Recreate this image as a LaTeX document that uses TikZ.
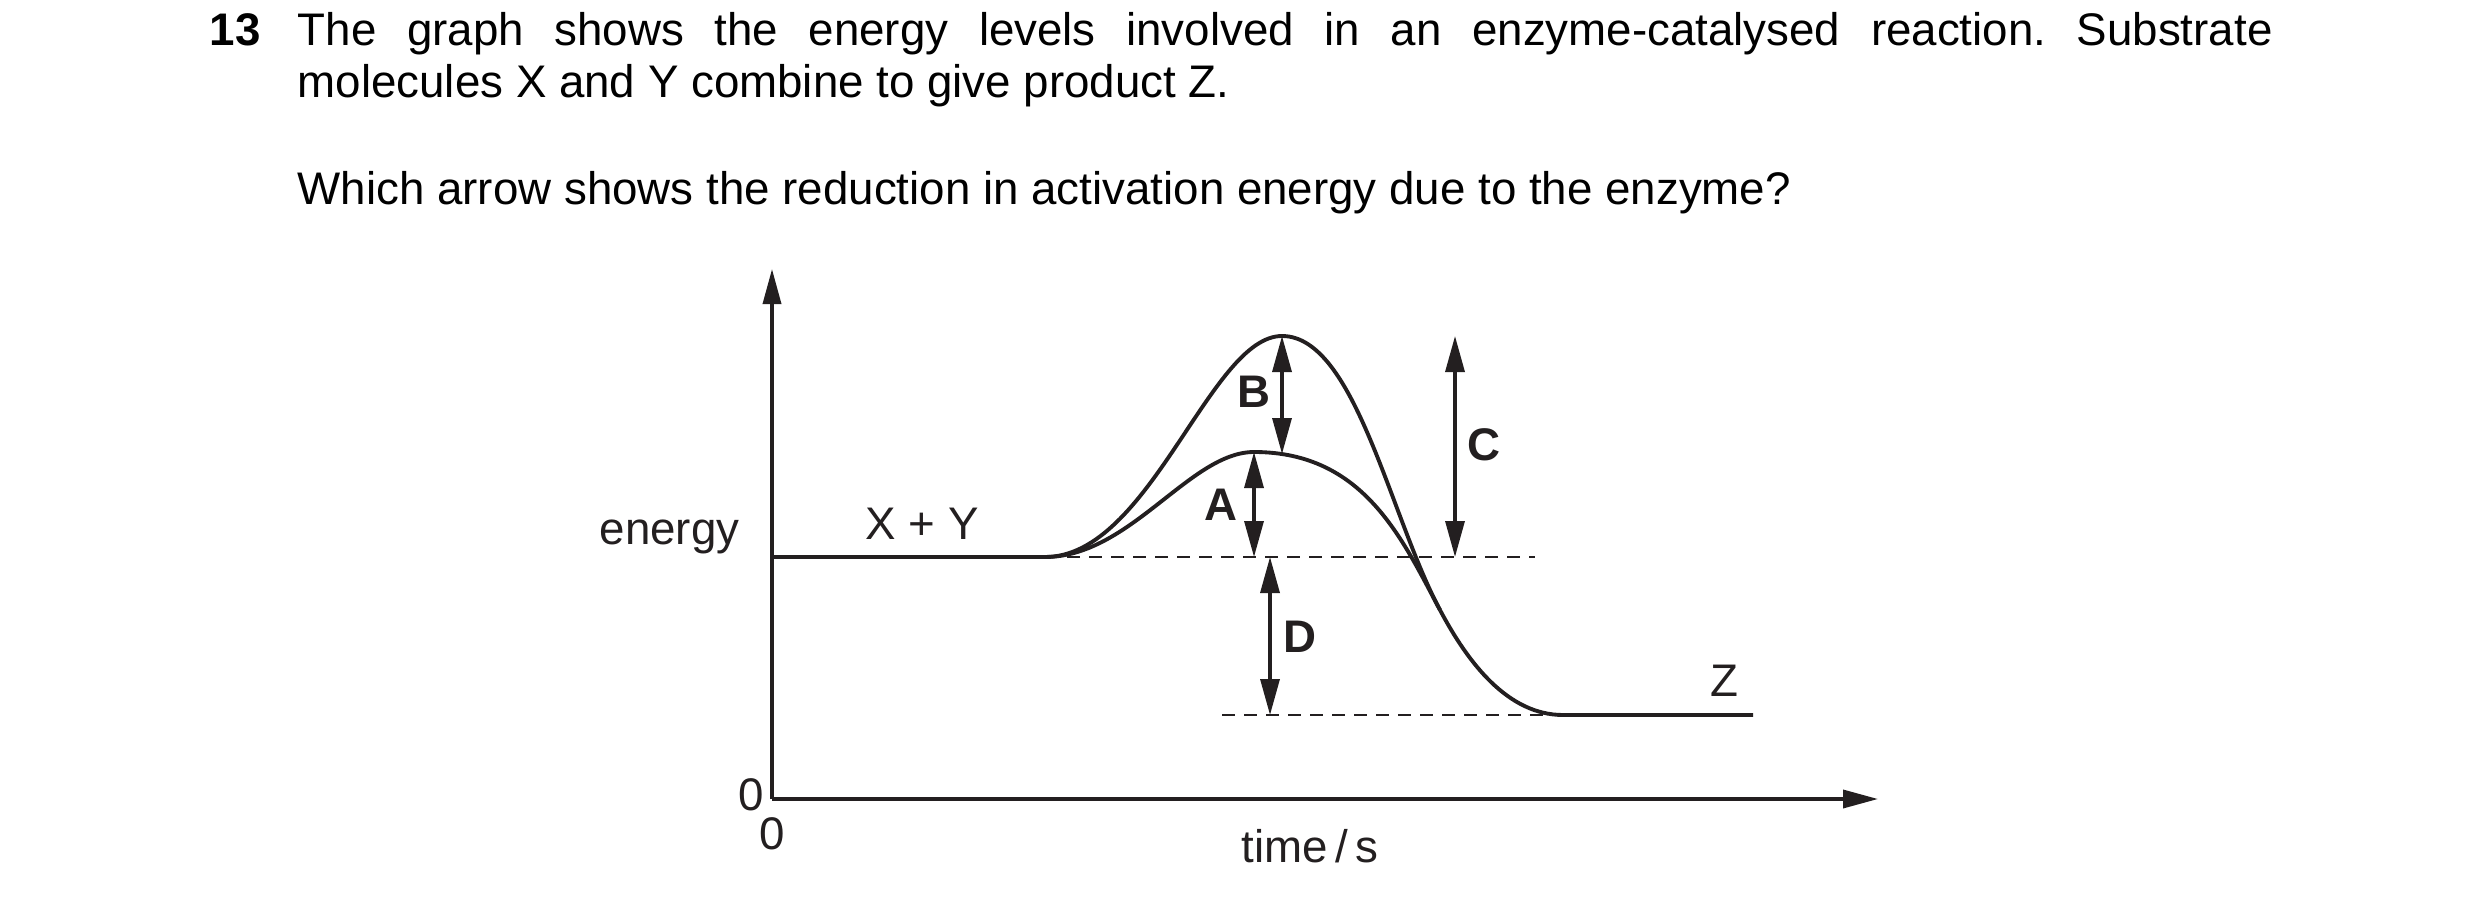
\documentclass[tikz,border=0pt]{standalone}
\usepackage{fontspec}
\setmainfont{Liberation Sans}
\usetikzlibrary{arrows.meta}
\definecolor{ink}{HTML}{231F20}
\tikzset{
  curve/.style={line width=1.1pt, draw=ink},
  axis/.style={line width=1pt, draw=ink, -{Triangle[length=3.5mm,width=1.8mm]}},
  dbl/.style={line width=0.95pt, draw=ink, fill=ink,
    {Triangle[length=3.6mm,width=1.9mm]}-{Triangle[length=3.6mm,width=1.9mm]}},
  level/.style={line width=0.7pt, draw=ink, dash pattern=on 1.3mm off 0.9mm},
  lbl/.style={font=\fontsize{13}{15}\selectfont\bfseries, text=ink}
}
\begin{document}
\begin{tikzpicture}[every node/.style={inner sep=0pt, font=\fontsize{13}{15}\selectfont}]
\useasboundingbox (0,0) rectangle (24.8,9);
\frenchspacing

% question text
\node[anchor=base west] (qnum) at (2.09,8.54) {\textbf{13}};
\node[anchor=base west] (qline1) at (2.97,8.54) {\makebox[19.75cm][s]{The graph shows the energy levels involved in an enzyme-catalysed reaction. Substrate}};
\node[anchor=base west] (qline2) at (2.97,8.02) {molecules X and Y combine to give product Z.};
\node[anchor=base west] (qline3) at (2.97,6.95) {Which arrow shows the reduction in activation energy due to the enzyme?};

% axes
\coordinate (O) at (7.72,1.01);
\coordinate (ytop) at (7.72,6.31);
\coordinate (xend) at (18.78,1.01);
\draw[axis] (O) -- (ytop);
\draw[axis] (O) -- (xend);

% energy profile
\coordinate (S) at (10.45,3.43);   % end of X + Y level
\coordinate (M) at (14.40,2.90);   % where the two curves meet
\coordinate (Q) at (15.63,1.85);   % start of Z level
\coordinate (Zend) at (17.53,1.85);
\coordinate (P1) at (12.82,5.64);  % peak without enzyme
\coordinate (P2) at (12.54,4.48);  % peak with enzyme
\draw[curve] (O |- S) -- (S);
\draw[curve] (S) .. controls (11.50,3.43) and (12.10,5.64) .. (P1)
  .. controls (13.55,5.64) and (13.90,3.83) .. (M);
\draw[curve] (S) .. controls (11.30,3.43) and (11.90,4.48) .. (P2)
  .. controls (13.64,4.48) and (14.02,3.61) .. (M);
\draw[curve] (M) .. controls (14.68,2.37) and (15.08,1.85) .. (Q) -- (Zend);

% dashed levels
\coordinate (dashR) at (15.35,3.43);
\coordinate (dashL) at (12.22,1.85);
\draw[level] (S) -- (dashR);
\draw[level] (dashL) -- (Q);

% arrows A to D
\coordinate (Bbot) at (12.82,4.46);
\coordinate (Ctop) at (14.55,5.64);
\coordinate (Cbot) at (14.55,3.43);
\coordinate (Dtop) at (12.70,3.43);
\coordinate (Dbot) at (12.70,1.85);
\draw[dbl] (P2) -- (P2 |- S);
\draw[dbl] (P1) -- (Bbot);
\draw[dbl] (Ctop) -- (Cbot);
\draw[dbl] (Dtop) -- (Dbot);
\node[lbl] (labA) at (12.21,3.95) {A};
\node[lbl] (labB) at (12.54,5.08) {B};
\node[lbl] (labC) at (14.84,4.55) {C};
\node[lbl] (labD) at (13.00,2.63) {D};

% axis and level labels
\node[anchor=base east, text=ink] (ylab) at (7.40,3.56) {energy};
\node[anchor=base, text=ink] (react) at (9.22,3.61) {X + Y};
\node[anchor=base, text=ink] (prod) at (17.24,2.04) {Z};
\node[anchor=base, text=ink] (yzero) at (7.51,0.90) {0};
\node[anchor=base, text=ink] (xzero) at (7.72,0.51) {0};
\node[anchor=base, text=ink] (xlab) at (13.10,0.38) {time\,/\,s};
\end{tikzpicture}
\end{document}
